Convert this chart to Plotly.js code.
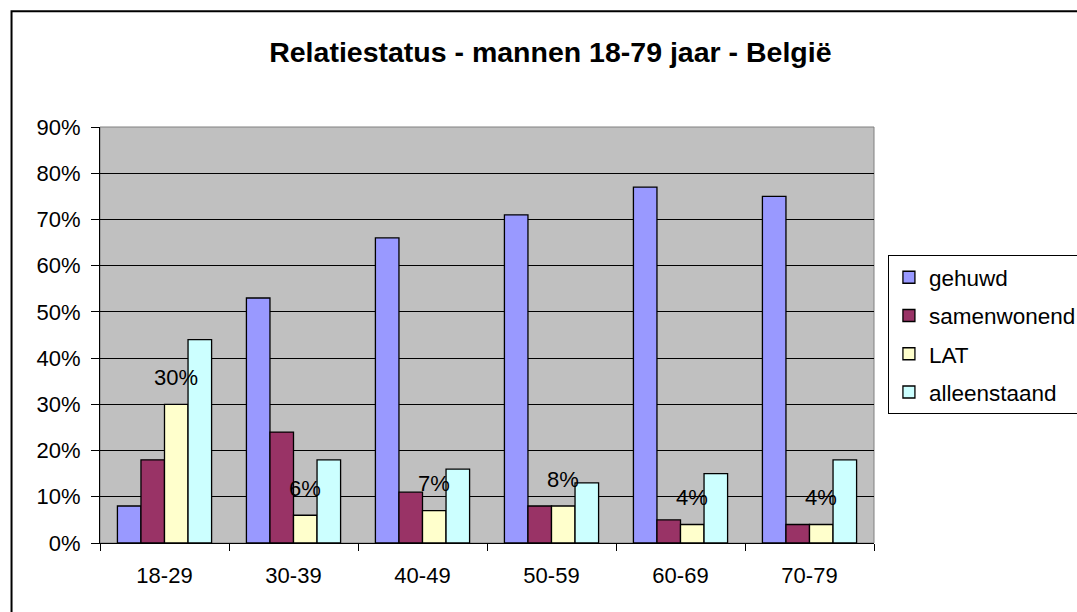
<!DOCTYPE html>
<html>
<head>
<meta charset="utf-8">
<script src="https://cdn.plot.ly/plotly-3.0.1.min.js"></script>
<style>
  html, body { margin: 0; padding: 0; background: #fff; }
  #chart { width: 1077px; height: 612px; }
</style>
</head>
<body>
<div id="chart"></div>
<script>
const categories = ["18-29", "30-39", "40-49", "50-59", "60-69", "70-79"];
const gehuwd = [8, 53, 66, 71, 77, 75];
const samenwonend = [18, 24, 11, 8, 5, 4];
const lat = [30, 6, 7, 8, 4, 4];
const alleenstaand = [44, 18, 16, 13, 15, 18];
const seriesNames = ["gehuwd", "samenwonend", "LAT", "alleenstaand"];
const seriesColors = ["#9999FF", "#993366", "#FFFFCC", "#CCFFFF"];
const yTickVals = [0, 10, 20, 30, 40, 50, 60, 70, 80, 90];

const FONT = "Arial, 'Liberation Sans', sans-serif";
const BARGAP = 0.27;
const seriesData = [gehuwd, samenwonend, lat, alleenstaand];

const traces = seriesData.map((vals, k) => ({
  type: "bar",
  name: seriesNames[k],
  x: categories,
  y: vals,
  legendgroup: "g" + k,
  marker: { color: seriesColors[k], line: { color: "#000", width: 1.3 } },
  hoverinfo: "x+y+name"
}));

// labels only on LAT series, centred on the LAT bar
const nSeries = seriesData.length;
const latIdx = 2;
const latOffset = (1 - BARGAP) * ((latIdx + 0.5) / nSeries - 0.5);
const annotations = lat.map((v, i) => ({
  x: i + latOffset,
  y: v,
  xref: "x",
  yref: "y",
  text: v + "%",
  showarrow: false,
  yanchor: "middle",
  yshift: 27,
  font: { family: FONT, size: 22, color: "#000" }
}));

const layout = {
  width: 1077,
  height: 612,
  margin: { l: 100, r: 203, t: 127, b: 69, pad: 0, autoexpand: false },
  paper_bgcolor: "#fff",
  plot_bgcolor: "#C0C0C0",
  font: { family: FONT, size: 22, color: "#000" },
  title: {
    text: "<b>Relatiestatus - mannen 18-79 jaar - België</b>",
    font: { family: FONT, size: 28.5, color: "#000" },
    x: 0.511,
    xanchor: "center",
    xref: "container",
    y: 0.915,
    yanchor: "middle",
    yref: "container"
  },
  barmode: "group",
  bargap: BARGAP,
  bargroupgap: 0,
  showlegend: true,
  legend: {
    x: 1.018,
    xanchor: "left",
    y: 0.692,
    yanchor: "top",
    bgcolor: "#fff",
    bordercolor: "#000",
    borderwidth: 1,
    font: { family: FONT, size: 22.5, color: "#000" },
    tracegroupgap: 6,
    itemwidth: 30,
    traceorder: "grouped"
  },
  xaxis: {
    type: "category",
    showgrid: false,
    showline: true,
    linecolor: "#000",
    linewidth: 1,
    ticks: "outside",
    tickson: "boundaries",
    ticklen: 7,
    tickcolor: "#000",
    tickwidth: 1,
    ticklabelstandoff: 13,
    tickfont: { family: FONT, size: 22, color: "#000" },
    fixedrange: true
  },
  yaxis: {
    range: [0, 90],
    tickvals: yTickVals,
    ticktext: yTickVals.map(v => v + "%"),
    showgrid: true,
    gridcolor: "#000",
    gridwidth: 1,
    zeroline: false,
    showline: true,
    linecolor: "#000",
    linewidth: 1,
    ticks: "outside",
    ticklen: 8,
    tickcolor: "#000",
    tickwidth: 1,
    ticklabelstandoff: 6,
    tickfont: { family: FONT, size: 22, color: "#000" },
    fixedrange: true
  },
  annotations: annotations,
  shapes: [
    { type: "rect", xref: "paper", yref: "paper", x0: 0, x1: 1, y0: 0, y1: 1,
      line: { color: "#808080", width: 1 }, layer: "below" },
    { type: "rect", xref: "paper", yref: "paper", x0: -0.1143, x1: 1.4, y0: -0.4, y1: 1.278,
      line: { color: "#000", width: 2 }, fillcolor: "rgba(0,0,0,0)", layer: "above" }
  ]
};

Plotly.newPlot("chart", traces, layout, { displayModeBar: false, staticPlot: true });
</script>
</body>
</html>
